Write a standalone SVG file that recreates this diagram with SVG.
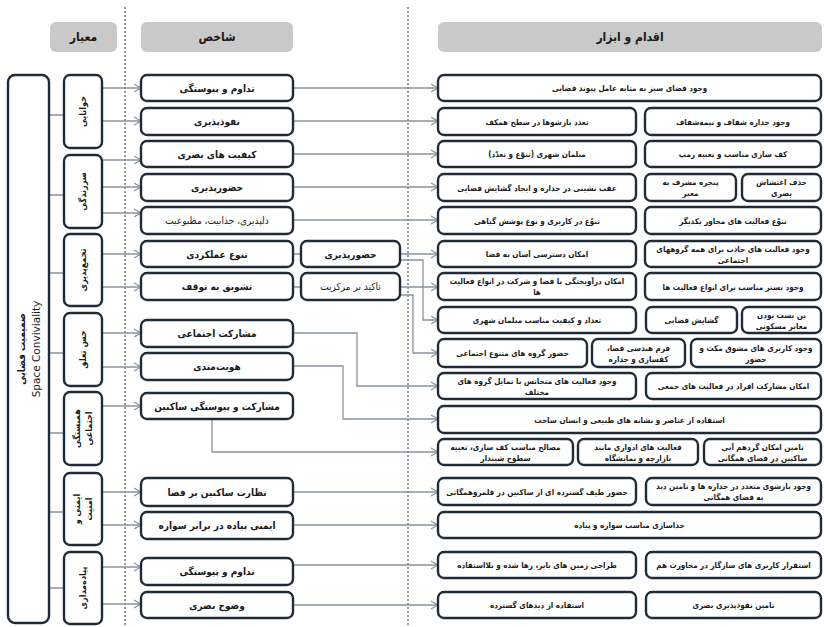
<svg xmlns="http://www.w3.org/2000/svg" width="824" height="627" viewBox="0 0 824 627">
<defs>
<style>
.hdr{fill:#c9c9c9}
.box{fill:#fff;stroke:#1f2b38;stroke-width:2.4}
.ln{stroke:#8794a1;stroke-width:1.3;fill:none}
.dash{stroke:#333;stroke-width:1;stroke-dasharray:2,2;fill:none}
.t{font-family:"DejaVu Sans Condensed","DejaVu Sans",sans-serif;fill:#1a1a1a;text-anchor:middle;direction:rtl}
.h{font-size:12px;font-weight:bold}
.i{font-size:10px;font-weight:bold}
.in{font-size:10px}
.a{font-size:8px;font-weight:bold}
.c{font-size:9px;font-weight:bold}
.big{font-size:10px;font-weight:bold}
.en{font-family:"DejaVu Sans",sans-serif;font-size:10.5px;fill:#1a1a1a;text-anchor:middle}
</style>
<marker id="ar" markerWidth="9" markerHeight="10" refX="7" refY="5" orient="auto" markerUnits="userSpaceOnUse">
<path d="M0,1 L7,5 L0,9" fill="none" stroke="#8794a1" stroke-width="1.2"/>
</marker>
</defs>
<rect width="824" height="627" fill="#fff"/>
<path class="dash" d="M125,7 V627 M408,7 V627"/>

<g id="headers">
<rect class="hdr" x="50" y="22" width="67" height="30" rx="6"/>
<text class="t h" x="83.5" y="41">معیار</text>
<rect class="hdr" x="141" y="22" width="152" height="30" rx="6"/>
<text class="t h" x="217" y="41">شاخص</text>
<rect class="hdr" x="438" y="22" width="384" height="30" rx="6"/>
<text class="t h" x="630" y="41">اقدام و ابزار</text>
</g>

<g id="connectors">
<path class="ln" d="M49,115 H64 M49,195 H64 M49,273 H64 M49,353 H64 M49,433 H64 M49,512 H64 M49,588 H64"/>
<g marker-end="url(#ar)">
<path class="ln" d="M102,88 H141"/>
<path class="ln" d="M102,121 H141"/>
<path class="ln" d="M102,160 H141"/>
<path class="ln" d="M102,187 H141"/>
<path class="ln" d="M102,213 H141"/>
<path class="ln" d="M102,254 H141"/>
<path class="ln" d="M102,287 H141"/>
<path class="ln" d="M102,333 H141"/>
<path class="ln" d="M102,367 H141"/>
<path class="ln" d="M102,406 H141"/>
<path class="ln" d="M102,492 H141"/>
<path class="ln" d="M102,525 H141"/>
<path class="ln" d="M102,567 H141"/>
<path class="ln" d="M102,604 H141"/>
<path class="ln" d="M293,88 H438"/>
<path class="ln" d="M293,121 H438"/>
<path class="ln" d="M293,154 H438"/>
<path class="ln" d="M293,187 H438"/>
<path class="ln" d="M293,220 H438"/>
<path class="ln" d="M400,254 H438"/>
<path class="ln" d="M400,260 H423 V320 H438"/>
<path class="ln" d="M400,287 H438"/>
<path class="ln" d="M400,295 H413 V353 H438"/>
<path class="ln" d="M293,333 H357 V386 H438"/>
<path class="ln" d="M293,366 H343 V419 H438"/>
<path class="ln" d="M212,419 V452 H438"/>
<path class="ln" d="M293,492 H438"/>
<path class="ln" d="M293,525 H438"/>
<path class="ln" d="M293,565 H438"/>
<path class="ln" d="M293,605 H438"/>
</g>
<path class="ln" d="M293,254 H301 M293,287 H301"/>
</g>

<g id="root">
<rect class="box" x="8" y="75" width="41" height="548" rx="7"/>
<g transform="translate(28,349) rotate(-90)">
<text class="t big" x="0" y="-3">صمیمیت فضایی</text>
<text class="en" x="0" y="12">Space Conviviality</text>
</g>
</g>

<g id="cat-khanaei">
<rect class="box" x="64" y="75" width="38" height="73" rx="6"/>
<text class="t c" transform="translate(86,111.5) rotate(-90)">خوانایی</text>
</g>
<g id="cat-sarzandegi">
<rect class="box" x="64" y="155" width="38" height="73" rx="6"/>
<text class="t c" transform="translate(86,191.5) rotate(-90)">سرزندگی</text>
</g>
<g id="cat-tajamo">
<rect class="box" x="64" y="234" width="38" height="72" rx="6"/>
<text class="t c" transform="translate(86,270) rotate(-90)">تجمع‌پذیری</text>
</g>
<g id="cat-hesetaalogh">
<rect class="box" x="64" y="313" width="38" height="73" rx="6"/>
<text class="t c" transform="translate(86,349.5) rotate(-90)">حس تعلق</text>
</g>
<g id="cat-hambastegi">
<rect class="box" x="64" y="392" width="38" height="73" rx="6"/>
<g transform="translate(83,428.5) rotate(-90)">
<text class="t c" x="0" y="-3">همبستگی</text>
<text class="t c" x="0" y="9">اجتماعی</text>
</g>
</g>
<g id="cat-imeni">
<rect class="box" x="64" y="473" width="38" height="72" rx="6"/>
<g transform="translate(83,509) rotate(-90)">
<text class="t c" x="0" y="-3">ایمنی و</text>
<text class="t c" x="0" y="9">امنیت</text>
</g>
</g>
<g id="cat-piade">
<rect class="box" x="64" y="552" width="38" height="72" rx="6"/>
<text class="t c" transform="translate(86,588) rotate(-90)">پیاده‌مداری</text>
</g>

<g id="ind-1"><rect class="box" x="141" y="75" width="152" height="26" rx="6"/><text class="t i" x="217" y="91.5">تداوم و پیوستگی</text></g>
<g id="ind-2"><rect class="box" x="141" y="108" width="152" height="27" rx="6"/><text class="t i" x="217" y="125">نفوذپذیری</text></g>
<g id="ind-3"><rect class="box" x="141" y="141" width="152" height="26" rx="6"/><text class="t i" x="217" y="157.5">کیفیت های بصری</text></g>
<g id="ind-4"><rect class="box" x="141" y="174" width="152" height="27" rx="6"/><text class="t i" x="217" y="191">حضورپذیری</text></g>
<g id="ind-5"><rect class="box" x="141" y="207" width="152" height="27" rx="6"/><text class="t in" x="217" y="224">دلپذیری، جذابیت، مطبوعیت</text></g>
<g id="ind-6"><rect class="box" x="141" y="241" width="152" height="26" rx="6"/><text class="t i" x="217" y="257.5">تنوع عملکردی</text></g>
<g id="ind-6b"><rect class="box" x="301" y="241" width="99" height="26" rx="6"/><text class="t i" x="350.5" y="257.5">حضورپذیری</text></g>
<g id="ind-7"><rect class="box" x="141" y="273" width="152" height="27" rx="6"/><text class="t i" x="217" y="290">تشویق به توقف</text></g>
<g id="ind-7b"><rect class="box" x="301" y="273" width="99" height="27" rx="6"/><text class="t in" x="350.5" y="290">تاکید بر مرکزیت</text></g>
<g id="ind-8"><rect class="box" x="141" y="320" width="152" height="27" rx="6"/><text class="t i" x="217" y="337">مشارکت اجتماعی</text></g>
<g id="ind-9"><rect class="box" x="141" y="353" width="152" height="27" rx="6"/><text class="t i" x="217" y="370">هویت‌مندی</text></g>
<g id="ind-10"><rect class="box" x="141" y="393" width="152" height="26" rx="6"/><text class="t i" x="217" y="409.5">مشارکت و پیوستگی ساکنین</text></g>
<g id="ind-11"><rect class="box" x="141" y="478" width="152" height="28" rx="6"/><text class="t i" x="217" y="495.5">نظارت ساکنین بر فضا</text></g>
<g id="ind-12"><rect class="box" x="141" y="512" width="152" height="27" rx="6"/><text class="t i" x="217" y="529">ایمنی پیاده در برابر سواره</text></g>
<g id="ind-13"><rect class="box" x="141" y="558" width="152" height="27" rx="6"/><text class="t i" x="217" y="575">تداوم و پیوستگی</text></g>
<g id="ind-14"><rect class="box" x="141" y="592" width="152" height="26" rx="6"/><text class="t i" x="217" y="608.5">وضوح بصری</text></g>

<g id="act-1"><rect class="box" x="438" y="75" width="383" height="26" rx="6"/><text class="t a" x="629.5" y="91">وجود فضای سبز به مثابه عامل پیوند فضایی</text></g>
<g id="act-2a"><rect class="box" x="438" y="108" width="198" height="27" rx="6"/><text class="t a" x="537" y="124.5">تعدد بازشوها در سطح همکف</text></g>
<g id="act-2b"><rect class="box" x="645" y="108" width="176" height="27" rx="6"/><text class="t a" x="733" y="124.5">وجود جداره شفاف و نیمه‌شفاف</text></g>
<g id="act-3a"><rect class="box" x="438" y="141" width="198" height="26" rx="6"/><text class="t a" x="537" y="157">مبلمان شهری (تنوّع و تعدّد)</text></g>
<g id="act-3b"><rect class="box" x="645" y="141" width="176" height="26" rx="6"/><text class="t a" x="733" y="157">کف سازی مناسب و تعبیه رمپ</text></g>
<g id="act-4a"><rect class="box" x="438" y="174" width="198" height="27" rx="6"/><text class="t a" x="537" y="190.5">عقب نشینی در جداره و ایجاد گشایش فضایی</text></g>
<g id="act-4b"><rect class="box" x="645" y="174" width="91" height="27" rx="6"/><text class="t a" x="690.5" y="185">پنجره مشرف به</text><text class="t a" x="690.5" y="196">معبر</text></g>
<g id="act-4c"><rect class="box" x="742" y="174" width="79" height="27" rx="6"/><text class="t a" x="781.5" y="185">حذف اغتشاش</text><text class="t a" x="781.5" y="196">بصری</text></g>
<g id="act-5a"><rect class="box" x="438" y="207" width="198" height="27" rx="6"/><text class="t a" x="537" y="223.5">تنوّع در کاربری و نوع پوشش گیاهی</text></g>
<g id="act-5b"><rect class="box" x="645" y="207" width="176" height="27" rx="6"/><text class="t a" x="733" y="223.5">تنوّع فعالیت های مجاور یکدیگر</text></g>
<g id="act-6a"><rect class="box" x="438" y="241" width="198" height="26" rx="6"/><text class="t a" x="537" y="257">امکان دسترسی آسان به فضا</text></g>
<g id="act-6b"><rect class="box" x="645" y="241" width="176" height="26" rx="6"/><text class="t a" x="733" y="251.5">وجود فعالیت های جاذب برای همه گروههای</text><text class="t a" x="733" y="262.5">اجتماعی</text></g>
<g id="act-7a"><rect class="box" x="438" y="273" width="198" height="27" rx="6"/><text class="t a" x="537" y="284">امکان درآویختگی با فضا و شرکت در انواع فعالیت</text><text class="t a" x="537" y="295">ها</text></g>
<g id="act-7b"><rect class="box" x="645" y="273" width="176" height="27" rx="6"/><text class="t a" x="733" y="289.5">وجود بستر مناسب برای انواع فعالیت ها</text></g>
<g id="act-8a"><rect class="box" x="438" y="307" width="198" height="26" rx="6"/><text class="t a" x="537" y="323">تعداد و کیفیت مناسب مبلمان شهری</text></g>
<g id="act-8b"><rect class="box" x="646" y="307" width="91" height="26" rx="6"/><text class="t a" x="691.5" y="323">گشایش فضایی</text></g>
<g id="act-8c"><rect class="box" x="742" y="307" width="79" height="26" rx="6"/><text class="t a" x="781.5" y="317.5">بن بست بودن</text><text class="t a" x="781.5" y="328.5">معابر مسکونی</text></g>
<g id="act-9a"><rect class="box" x="438" y="339" width="149" height="28" rx="6"/><text class="t a" x="512.5" y="356">حضور گروه های متنوع اجتماعی</text></g>
<g id="act-9b"><rect class="box" x="592" y="339" width="93" height="28" rx="6"/><text class="t a" x="638.5" y="350.5">فرم هندسی فضا،</text><text class="t a" x="638.5" y="361.5">کفسازی و جداره</text></g>
<g id="act-9c"><rect class="box" x="691" y="339" width="130" height="28" rx="6"/><text class="t a" x="756" y="350.5">وجود کاربری های مشوق مکث و</text><text class="t a" x="756" y="361.5">حضور</text></g>
<g id="act-10a"><rect class="box" x="438" y="373" width="198" height="26" rx="6"/><text class="t a" x="537" y="383.5">وجود فعالیت های متجانس با تمایل گروه های</text><text class="t a" x="537" y="394.5">مختلف</text></g>
<g id="act-10b"><rect class="box" x="646" y="373" width="175" height="26" rx="6"/><text class="t a" x="733.5" y="389">امکان مشارکت افراد در فعالیت های جمعی</text></g>
<g id="act-11"><rect class="box" x="438" y="406" width="383" height="27" rx="6"/><text class="t a" x="629.5" y="422.5">استفاده از عناصر و نشانه های طبیعی و انسان ساخت</text></g>
<g id="act-12a"><rect class="box" x="438" y="439" width="135" height="26" rx="6"/><text class="t a" x="505.5" y="449.5">مصالح مناسب کف سازی، تعبیه</text><text class="t a" x="505.5" y="460.5">سطوح شیبدار</text></g>
<g id="act-12b"><rect class="box" x="578" y="439" width="120" height="26" rx="6"/><text class="t a" x="638" y="449.5">فعالیت های ادواری مانند</text><text class="t a" x="638" y="460.5">بازارچه و نمایشگاه</text></g>
<g id="act-12c"><rect class="box" x="704" y="439" width="117" height="26" rx="6"/><text class="t a" x="762.5" y="449.5">تامین امکان گردهم آیی</text><text class="t a" x="762.5" y="460.5">ساکنین در فضای همگانی</text></g>
<g id="act-13a"><rect class="box" x="438" y="478" width="198" height="27" rx="6"/><text class="t a" x="537" y="494.5">حضور طیف گسترده ای از ساکنین در قلمروهمگانی</text></g>
<g id="act-13b"><rect class="box" x="646" y="478" width="175" height="27" rx="6"/><text class="t a" x="733.5" y="489">وجود بازشوی متعدد در جداره ها و تامین دید</text><text class="t a" x="733.5" y="500">به فضای همگانی</text></g>
<g id="act-14"><rect class="box" x="438" y="512" width="383" height="26" rx="6"/><text class="t a" x="629.5" y="528">جداسازی مناسب سواره و پیاده</text></g>
<g id="act-15a"><rect class="box" x="438" y="552" width="198" height="26" rx="6"/><text class="t a" x="537" y="568">طراحی زمین های بایر، رها شده و بلااستفاده</text></g>
<g id="act-15b"><rect class="box" x="646" y="552" width="175" height="26" rx="6"/><text class="t a" x="733.5" y="568">استقرار کاربری های سازگار در مجاورت هم</text></g>
<g id="act-16a"><rect class="box" x="438" y="592" width="198" height="26" rx="6"/><text class="t a" x="537" y="608">استفاده از دیدهای گسترده</text></g>
<g id="act-16b"><rect class="box" x="646" y="592" width="175" height="26" rx="6"/><text class="t a" x="733.5" y="608">تامین نفوذپذیری بصری</text></g>
</svg>
